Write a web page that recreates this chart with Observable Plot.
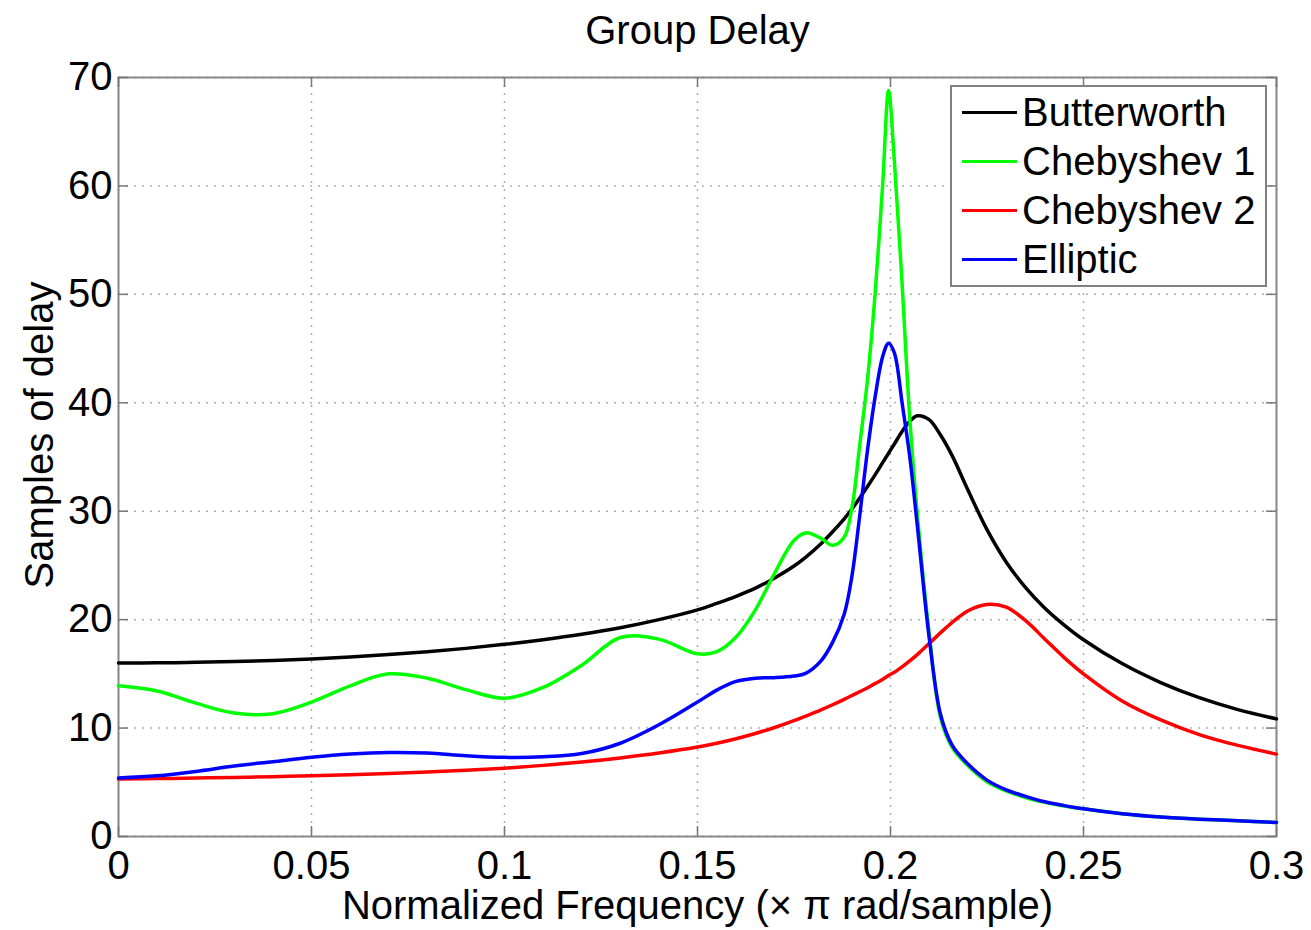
<!DOCTYPE html>
<html>
<head>
<meta charset="utf-8">
<script src="https://cdn.jsdelivr.net/npm/d3@7"></script>
<script src="https://cdn.jsdelivr.net/npm/@observablehq/plot@0.6"></script>
<style>
  body { margin: 0; background: #fff; font-family: "Liberation Sans", Arial, sans-serif; }
  #wrap { position: relative; width: 1311px; height: 930px; }
  #legend { position: absolute; left: 950px; top: 85px; width: 317px; height: 202px; box-sizing: border-box;
            border: 2px solid #808080; background: #fff; padding-top: 1px; }
  .row { display: flex; align-items: center; height: 49px; }
  .sw { width: 55px; height: 0; border-top: 3.5px solid #000; margin-left: 10px; margin-right: 5px; }
  .lbl { font-size: 40px; line-height: 49px; color: #000; white-space: nowrap; }
</style>
</head>
<body>
<div id="wrap"></div>
<script>
// ---- data ----
const freq = [0,0.01,0.02,0.03,0.04,0.05,0.06,0.07,0.08,0.09,0.10,0.11,0.12,0.13,0.14,0.15,
  0.155,0.16,0.165,0.17,0.175,0.178,0.182,0.185,0.188,0.19,0.192,0.194,0.196,0.198,0.1995,
  0.201,0.203,0.205,0.207,0.21,0.213,0.216,0.22,0.225,0.23,0.235,0.24,0.245,0.25,0.26,0.27,0.28,0.29,0.3];

const butterworth = [16.0,16.02,16.06,16.13,16.24,16.38,16.56,16.78,17.04,17.35,17.72,18.15,18.65,19.25,20.0,20.9,
  21.5,22.15,22.9,23.85,24.95,25.75,27.0,28.1,29.3,30.2,31.2,32.25,33.35,34.5,35.35,
  36.2,37.35,38.3,38.8,38.45,37.0,35.1,32.0,28.3,25.3,22.95,21.05,19.5,18.15,15.95,14.2,12.8,11.7,10.85];

const chebyshev1 = [13.9,13.42,12.3,11.38,11.33,12.4,13.9,15.0,14.6,13.55,12.75,13.75,15.8,18.35,18.2,16.85,
  17.05,18.4,20.9,24.3,27.3,28.0,27.5,26.85,27.6,30.3,36.0,42.0,50.0,60.3,68.8,
  62.3,51.0,38.5,29.5,18.8,10.9,8.2,6.55,5.05,4.2,3.6,3.15,2.8,2.55,2.1,1.8,1.6,1.45,1.3];

const chebyshev2 = [5.3,5.34,5.39,5.45,5.52,5.6,5.69,5.8,5.94,6.1,6.3,6.56,6.87,7.25,7.7,8.25,
  8.6,9.02,9.5,10.05,10.68,11.1,11.68,12.15,12.65,13.0,13.35,13.7,14.1,14.5,14.85,
  15.15,15.65,16.2,16.8,17.8,18.8,19.75,20.8,21.4,21.15,19.9,18.2,16.5,15.0,12.5,10.75,9.4,8.4,7.6];

const elliptic = [5.4,5.6,6.0,6.5,6.9,7.3,7.6,7.75,7.7,7.45,7.3,7.35,7.65,8.6,10.3,12.4,
  13.5,14.3,14.6,14.65,14.8,15.05,16.2,17.9,20.5,24.0,29.5,35.5,40.5,44.3,45.5,
  44.6,40.0,35.0,28.5,18.4,11.2,8.4,6.7,5.2,4.3,3.7,3.2,2.85,2.55,2.1,1.8,1.6,1.45,1.3];

const seriesNames = ["Butterworth", "Chebyshev 1", "Chebyshev 2", "Elliptic"];
const seriesColors = ["#000000", "#00ff00", "#ff0000", "#0000ff"];
const seriesValues = [butterworth, chebyshev1, chebyshev2, elliptic];

const xTicks = [0, 0.05, 0.1, 0.15, 0.2, 0.25, 0.3];
const xTickLabels = ["0", "0.05", "0.1", "0.15", "0.2", "0.25", "0.3"];
const yTicks = [0, 10, 20, 30, 40, 50, 60, 70];

const titleText = "Group Delay";
const xLabelText = "Normalized Frequency (\u00d7 \u03c0 rad/sample)";
const yLabelText = "Samples of delay";

// ---- build ----
const rows = [];
seriesNames.forEach((name, s) => {
  freq.forEach((f, i) => rows.push({ f, v: seriesValues[s][i], series: name }));
});

const W = 1311, H = 930, mt = 77, mb = 94, ml = 118, mr = 35;
const fw = W - ml - mr, fh = H - mt - mb;
const font = "'Liberation Sans', Arial, sans-serif";

const chart = Plot.plot({
  width: W, height: H,
  marginTop: mt, marginBottom: mb, marginLeft: ml, marginRight: mr,
  style: { fontFamily: font, fontSize: "40px", color: "#000", background: "#fff", overflow: "visible" },
  x: { domain: [0, 0.3] },
  y: { domain: [0, 70] },
  color: { domain: seriesNames, range: seriesColors },
  marks: [
    Plot.gridX(xTicks, { stroke: "#b0b0b0", strokeOpacity: 1, strokeWidth: 1.5, strokeDasharray: "2,6" }),
    Plot.gridY(yTicks, { stroke: "#b0b0b0", strokeOpacity: 1, strokeWidth: 1.5, strokeDasharray: "2,6" }),
    Plot.frame({ stroke: "#888", strokeWidth: 2 }),
    Plot.ruleX(xTicks, { insetTop: fh - 10, stroke: "#777", strokeWidth: 1.5 }),
    Plot.ruleX(xTicks, { insetBottom: fh - 10, stroke: "#777", strokeWidth: 1.5 }),
    Plot.ruleY(yTicks, { insetRight: fw - 10, stroke: "#777", strokeWidth: 1.5 }),
    Plot.ruleY(yTicks, { insetLeft: fw - 10, stroke: "#777", strokeWidth: 1.5 }),
    Plot.line(rows, { x: "f", y: "v", z: "series", stroke: "series", strokeWidth: 3.5, curve: "catmull-rom" }),
    Plot.axisX(xTicks, { tickSize: 0, tickPadding: 14, fontSize: 40, label: null,
      tickFormat: d => xTickLabels[xTicks.indexOf(d)] }),
    Plot.axisY(yTicks, { tickSize: 0, tickPadding: 6, fontSize: 40, label: null }),
    Plot.text([titleText], { text: d => d, frameAnchor: "top", lineAnchor: "top", dy: -62, fontSize: 40 }),
    Plot.text([xLabelText], { text: d => d, frameAnchor: "bottom", lineAnchor: "top", dy: 54, fontSize: 40 }),
    Plot.text([yLabelText], { text: d => d, frameAnchor: "left", textAnchor: "middle", rotate: -90, dx: -78, dy: -22, fontSize: 40 })
  ]
});

const wrap = document.getElementById("wrap");
wrap.appendChild(chart);

// legend
const legend = document.createElement("div");
legend.id = "legend";
seriesNames.forEach((name, i) => {
  const row = document.createElement("div");
  row.className = "row";
  const sw = document.createElement("div");
  sw.className = "sw";
  sw.style.borderTopColor = seriesColors[i];
  const lbl = document.createElement("div");
  lbl.className = "lbl";
  lbl.textContent = name;
  row.appendChild(sw);
  row.appendChild(lbl);
  legend.appendChild(row);
});
wrap.appendChild(legend);
</script>
</body>
</html>
